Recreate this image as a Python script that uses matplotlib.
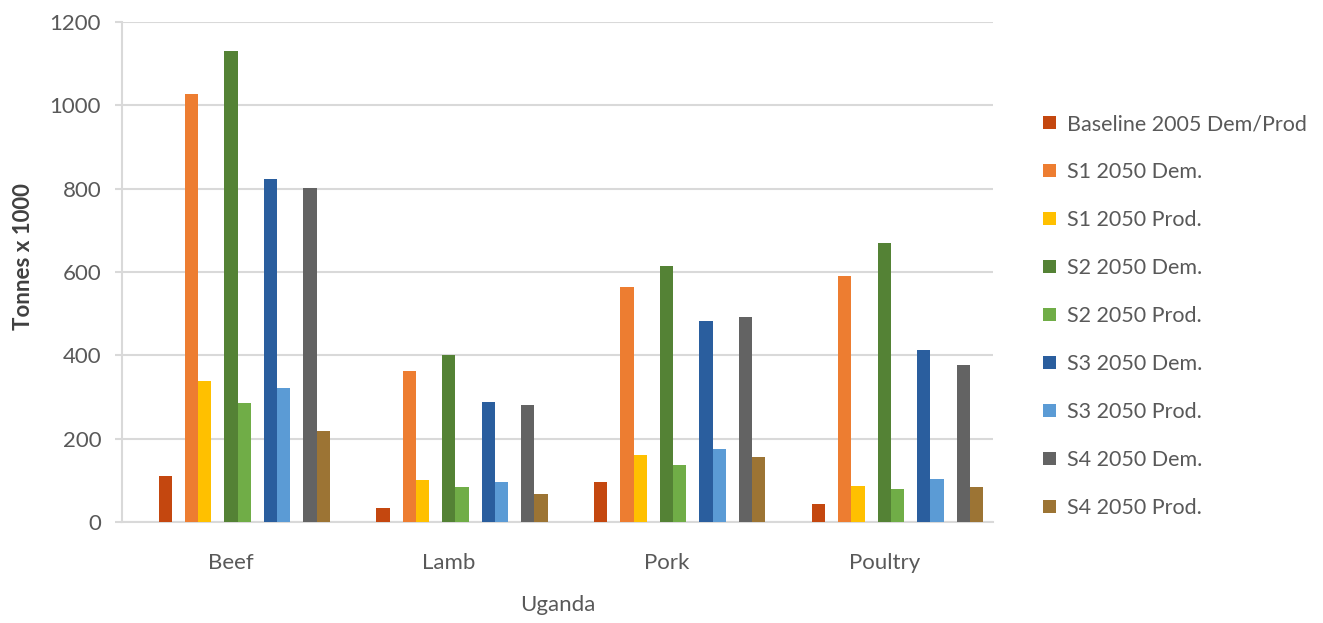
import numpy as np
import matplotlib
matplotlib.use('Agg')
import matplotlib.pyplot as plt

# - Data (tonnes x 1000)
categories = ['Beef', 'Lamb', 'Pork', 'Poultry']
series_names = ['Baseline 2005 Dem/Prod',
                'S1 2050 Dem.', 'S1 2050 Prod.',
                'S2 2050 Dem.', 'S2 2050 Prod.',
                'S3 2050 Dem.', 'S3 2050 Prod.',
                'S4 2050 Dem.', 'S4 2050 Prod.']
baseline = [111, 33, 95, 43]
s1_dem = [1027, 362, 563, 591]
s1_prod = [338, 100, 161, 87]
s2_dem = [1130, 400, 614, 670]
s2_prod = [286, 84, 137, 79]
s3_dem = [822, 288, 483, 413]
s3_prod = [322, 97, 175, 103]
s4_dem = [802, 280, 493, 378]
s4_prod = [218, 67, 156, 85]

series_values = [baseline, s1_dem, s1_prod, s2_dem, s2_prod,
                 s3_dem, s3_prod, s4_dem, s4_prod]
colors = ['#C4470F', '#ED7D31', '#FFC000', '#548235', '#70AD47',
          '#2A5E9E', '#5B9BD5', '#636363', '#9C7434']

# slot index of each series inside a group (empty slot before every Dem/Prod pair)
slots = [0, 2, 3, 5, 6, 8, 9, 11, 12]
slot_w = 0.0605
first_left = -0.332

text_color = '#595959'
grid_color = '#D9D9D9'
plt.rcParams['font.family'] = ['Lato', 'DejaVu Sans']

fig = plt.figure(figsize=(13.23, 6.23), dpi=100)
ax = fig.add_axes([0.0922, 0.1621, 0.6584, 0.8026])

x = np.arange(len(categories))
for vals, name, col, slot in zip(series_values, series_names, colors, slots):
    left = x + first_left + slot * slot_w
    ax.bar(left, vals, width=slot_w, align='edge', color=col, label=name,
           zorder=3, linewidth=0)

ax.set_xlim(-0.5, len(categories) - 0.5)
ax.set_ylim(0, 1200)
ax.set_yticks(np.arange(0, 1201, 200))
ax.set_xticks(x)
ax.set_xticklabels(categories)

ax.grid(axis='y', color=grid_color, linewidth=1.5, zorder=0)
for side in ['top', 'right']:
    ax.spines[side].set_visible(False)
for side in ['left', 'bottom']:
    ax.spines[side].set_color(grid_color)
    ax.spines[side].set_linewidth(1.5)

ax.tick_params(axis='y', colors=grid_color, length=5, width=1.5, pad=10,
               labelcolor=text_color, labelsize=16)
ax.tick_params(axis='x', length=0, pad=22, labelcolor=text_color, labelsize=16)

ax.set_xlabel('Uganda', fontsize=16, color=text_color, va='center')
ax.xaxis.set_label_coords(0.5, -0.166)
ax.set_ylabel('Tonnes x 1000', fontsize=16, color='#404040', fontweight='bold',
              va='center')
ax.yaxis.set_label_coords(-0.1125, 0.53)

leg = ax.legend(loc='center left', bbox_to_anchor=(1.035, 0.412), frameon=False,
                fontsize=15.5, labelcolor=text_color, handlelength=0.6,
                handleheight=0.6, handletextpad=0.5, labelspacing=1.3)

fig.savefig('out.png', dpi=100, facecolor='white')
